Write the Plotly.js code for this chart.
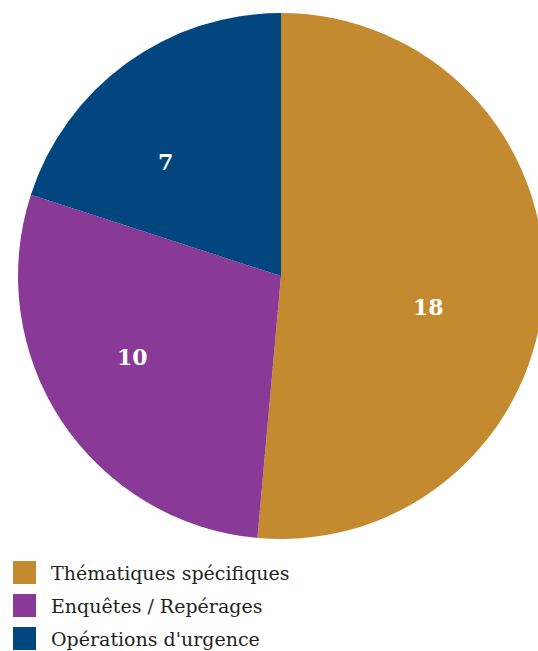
<!DOCTYPE html>
<html>
<head>
<meta charset="utf-8">
<script src="https://cdn.plot.ly/plotly-3.0.1.min.js"></script>
<style>
html, body { margin: 0; padding: 0; overflow: hidden; background: #fff; }
#chart { width: 545px; height: 651px; }
</style>
</head>
<body>
<div id="chart"></div>
<script>
// Data
const categories = ["Thématiques spécifiques", "Enquêtes / Repérages", "Opérations d'urgence"];
const values = [18, 10, 7];
const colors = ["#C48A30", "#893A96", "#02467F"];

// Styling / positions (pixel positions of value labels inside slices)
const labelPos = [[428, 307], [132, 357], [165, 162]];
const W = 545, H = 651;

const trace = {
  type: "pie",
  labels: categories,
  values: values,
  sort: false,
  direction: "clockwise",
  rotation: 0,
  marker: { colors: colors, line: { width: 0 } },
  textinfo: "none",
  hoverinfo: "label+value",
  showlegend: false
};

const annotations = [];
const shapes = [];
values.forEach((v, i) => {
  annotations.push({
    xref: "paper", yref: "paper",
    x: (labelPos[i][0] - 18) / (W - 19),
    y: 1 - (labelPos[i][1] - 13) / (H - 125),
    text: "<b>" + v + "</b>",
    showarrow: false,
    xanchor: "center", yanchor: "middle",
    font: { family: "DejaVu Serif", size: 22, color: "#ffffff" }
  });
});
categories.forEach((c, i) => {
  const top = 561 + i * 33;
  shapes.push({
    type: "rect", xref: "paper", yref: "paper",
    x0: (13 - 18) / (W - 19), x1: (36 - 18) / (W - 19),
    y0: 1 - (top - 13) / (H - 125), y1: 1 - (top + 23 - 13) / (H - 125),
    fillcolor: colors[i], line: { width: 0 }
  });
  annotations.push({
    xref: "paper", yref: "paper",
    x: (49 - 18) / (W - 19),
    y: 1 - (top + 12 - 13) / (H - 125),
    text: c,
    showarrow: false,
    xanchor: "left", yanchor: "middle",
    font: { family: "DejaVu Serif", size: 19, color: "#231f20" }
  });
});

const layout = {
  width: W, height: H,
  margin: { l: 18, r: 1, t: 13, b: 112, pad: 0 },
  paper_bgcolor: "#ffffff",
  showlegend: false,
  annotations: annotations,
  shapes: shapes
};

Plotly.newPlot("chart", [trace], layout, { displayModeBar: false, staticPlot: true });
</script>
</body>
</html>
